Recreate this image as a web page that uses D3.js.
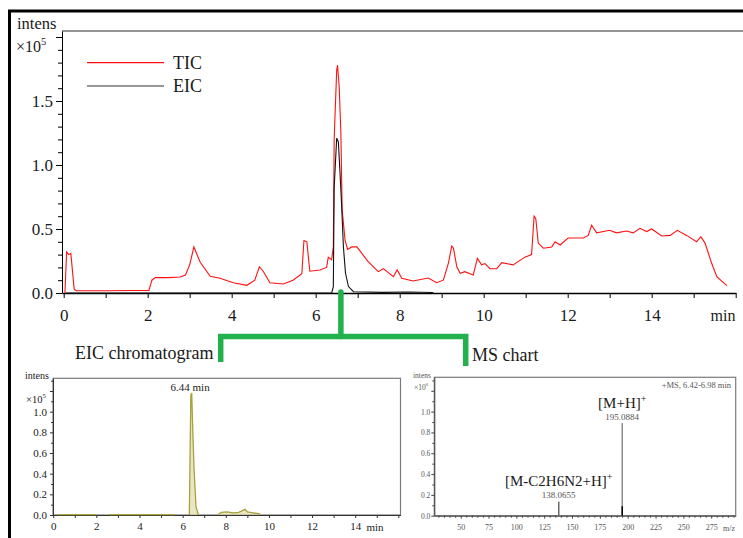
<!DOCTYPE html>
<html>
<head>
<meta charset="utf-8">
<script src="https://cdn.jsdelivr.net/npm/d3@7"></script>
<style>
  body { margin: 0; background: #fff; }
  text { font-family: "Liberation Serif", "Times New Roman", serif; fill: #1a1a1a; }
</style>
</head>
<body>
<svg id="fig" width="743" height="538"></svg>
<script>
// ---- data ----
// main chromatogram, intensity in x10^5
var ticTime = [0.03, 0.07, 0.12, 0.17, 0.25, 0.3, 1.0, 1.6, 2.03, 2.1, 2.18, 2.5, 2.77, 2.9, 3.0, 3.1, 3.25, 3.49, 3.72, 4.04, 4.36, 4.55, 4.66, 4.75, 4.91, 5.23, 5.46, 5.67, 5.72, 5.79, 5.86, 6.1, 6.26, 6.3, 6.38, 6.42, 6.44, 6.5, 6.52, 6.56, 6.6, 6.63, 6.7, 6.76, 6.86, 6.98, 7.25, 7.49, 7.61, 7.85, 7.94, 8.05, 8.32, 8.68, 8.88, 9.04, 9.16, 9.24, 9.28, 9.36, 9.44, 9.55, 9.75, 9.85, 9.95, 10.03, 10.15, 10.31, 10.43, 10.7, 10.98, 11.14, 11.2, 11.24, 11.3, 11.42, 11.62, 11.7, 11.82, 12.01, 12.37, 12.49, 12.57, 12.69, 12.85, 13.0, 13.16, 13.4, 13.56, 13.72, 13.88, 14.0, 14.24, 14.44, 14.61, 14.83, 15.07, 15.17, 15.27, 15.43, 15.55, 15.79];
var ticValue = [0.0, 0.32, 0.3, 0.31, 0.03, 0.018, 0.018, 0.02, 0.02, 0.1, 0.12, 0.12, 0.125, 0.14, 0.22, 0.36, 0.24, 0.13, 0.115, 0.08, 0.06, 0.1, 0.205, 0.17, 0.08, 0.07, 0.1, 0.15, 0.41, 0.4, 0.17, 0.18, 0.2, 0.28, 0.26, 0.36, 1.2, 1.74, 1.78, 1.61, 1.25, 0.65, 0.41, 0.34, 0.36, 0.36, 0.245, 0.167, 0.19, 0.127, 0.18, 0.115, 0.094, 0.117, 0.08, 0.1, 0.234, 0.367, 0.35, 0.205, 0.154, 0.167, 0.14, 0.27, 0.22, 0.23, 0.19, 0.19, 0.237, 0.22, 0.28, 0.3, 0.6, 0.58, 0.39, 0.35, 0.36, 0.4, 0.375, 0.43, 0.43, 0.45, 0.53, 0.47, 0.48, 0.49, 0.47, 0.484, 0.47, 0.505, 0.48, 0.5, 0.445, 0.45, 0.49, 0.45, 0.4, 0.44, 0.39, 0.23, 0.127, 0.057];

var eicTime = [0.05, 6.38, 6.42, 6.44, 6.5, 6.54, 6.58, 6.62, 6.66, 6.71, 6.78, 6.9, 7.6, 8.2, 8.8];
var eicValue = [0, 0, 0.05, 0.82, 1.21, 1.18, 0.935, 0.67, 0.36, 0.154, 0.05, 0.01, 0.005, 0.008, 0.004];

// EIC chromatogram panel (null = gap in trace)
var subTime = [0.2, 2.0, 2.3, 2.6, 5.6, 5.9, 6.31, 6.38, 6.42, 6.47, 6.53, 6.62, 6.73, 7.2, 7.66, 7.8, 8.05, 8.35, 8.6, 8.9, 9.0, 9.28, 9.6];
var subValue = [0.004, 0.004, null, 0.004, 0.004, null, 0, 1.16, 1.18, 0.82, 0.44, 0.08, 0, null, 0.01, 0.025, 0.03, 0.02, 0.025, 0.055, 0.03, 0.02, 0.01];

// MS spectrum, intensity in x10^6
var msMz = [138.0655, 195.0884];
var msIntensity = [0.135, 0.89];
var msIonLabels = ["[M-C2H6N2+H]", "[M+H]"];
var msOverlayMz = [195.0884];
var msOverlayIntensity = [0.09];

var mainXTicks = d3.range(0, 17, 1);
var mainYTicks = d3.range(0, 21).map(function (d) { return d / 10; });
var subYTicks = d3.range(0, 14).map(function (d) { return d / 10; });
var msXTicks = d3.range(30, 296, 5);
var msYTicks = d3.range(0, 14).map(function (d) { return d / 10; });

var selectedTime = 6.6;

var svg = d3.select("#fig");
var ink = "#1a1a1a";
var serif = '"Liberation Serif", "Times New Roman", serif';

function styleAxis(g, size, color, lineColor) {
  g.attr("font-family", null).attr("font-size", null);
  g.selectAll("text").style("font-family", serif).style("font-size", size + "px").style("fill", color);
  g.select(".domain").attr("stroke", lineColor);
  g.selectAll(".tick line").attr("stroke", lineColor);
}

function sciLabel(x, y, size, power) {
  var t = svg.append("text").attr("x", x).attr("y", y).style("font-size", size + "px").text("\u00d710");
  t.append("tspan").attr("dy", -size * 0.45).style("font-size", (size * 0.65) + "px").text(power);
  return t;
}

// outer border
svg.append("line").attr("x1", 8).attr("x2", 743).attr("y1", 11).attr("y2", 11).attr("stroke", "#000").attr("stroke-width", 3);
svg.append("line").attr("x1", 9.5).attr("x2", 9.5).attr("y1", 10).attr("y2", 538).attr("stroke", "#000").attr("stroke-width", 3);

plotMain();
plotSub();
plotMs();
plotConnector();

function plotMain() {
  var x = d3.scaleLinear().domain([-0.04, 16]).range([62, 735.7]);
  var y = d3.scaleLinear().domain([0, 2.047]).range([293, 31]);
  window.xMain = x;

  svg.append("line").attr("x1", 62).attr("x2", 743).attr("y1", 31).attr("y2", 31)
    .attr("stroke", "#707070").attr("stroke-width", 1.5);

  var bottom = d3.axisBottom(x).tickValues(mainXTicks).tickSize(5).tickSizeOuter(0).tickPadding(11)
    .tickFormat(function (d) { return (d % 2 === 0 && d < 16) ? d : ""; });
  var gx = svg.append("g").attr("transform", "translate(0,293)").call(bottom);
  styleAxis(gx, 17, ink, "#000");
  gx.select(".domain").attr("stroke-width", 1.3);

  var left = d3.axisLeft(y).tickValues(mainYTicks).tickSize(6).tickSizeOuter(0).tickPadding(3)
    .tickFormat(function (d) { return (Math.round(d * 10) % 5 === 0 && d < 1.6) ? d3.format(".1f")(d) : ""; });
  var gy = svg.append("g").attr("transform", "translate(62,0)").call(left);
  styleAxis(gy, 17, ink, "#000");
  gy.selectAll(".tick line").attr("x2", function (d) { return Math.round(d * 10) % 5 === 0 ? -6 : -4; });

  svg.append("text").attr("x", 723).attr("y", 321).attr("text-anchor", "middle").style("font-size", "16px").text("min");
  svg.append("text").attr("x", 17).attr("y", 29).style("font-size", "16.5px").text("intens");
  sciLabel(16, 52, 16, "5");

  var ticLine = d3.line().x(function (d, i) { return x(ticTime[i]); }).y(function (d) { return y(d); });
  svg.append("path").datum(ticValue).attr("d", ticLine).attr("fill", "none").attr("stroke", "#ff1010").attr("stroke-width", 1.1);

  var eicLine = d3.line().x(function (d, i) { return x(eicTime[i]); }).y(function (d) { return y(d); });
  svg.append("path").datum(eicValue).attr("d", eicLine).attr("fill", "none").attr("stroke", "#111").attr("stroke-width", 1.1);

  // legend
  svg.append("line").attr("x1", 87).attr("x2", 164).attr("y1", 62.7).attr("y2", 62.7).attr("stroke", "#ff1010").attr("stroke-width", 1.2);
  svg.append("text").attr("x", 173).attr("y", 69).style("font-size", "18px").text("TIC");
  svg.append("line").attr("x1", 87).attr("x2", 164).attr("y1", 86).attr("y2", 86).attr("stroke", "#333").attr("stroke-width", 1.2);
  svg.append("text").attr("x", 173).attr("y", 92).style("font-size", "18px").text("EIC");
}

function plotSub() {
  var x = d3.scaleLinear().domain([-0.01, 16.1]).range([53, 400.5]);
  var y = d3.scaleLinear().domain([0, 1.323]).range([515, 378.3]);

  svg.append("rect").attr("x", 53).attr("y", 378.3).attr("width", 347.5).attr("height", 136.7)
    .attr("fill", "none").attr("stroke", "#7a7a7a").attr("stroke-width", 1.2);

  var bottom = d3.axisBottom(x).tickValues(mainXTicks).tickSize(3).tickSizeOuter(0).tickPadding(4.5)
    .tickFormat(function (d) { return (d % 2 === 0 && d < 16) ? d : ""; });
  var gx = svg.append("g").attr("transform", "translate(0,515)").call(bottom);
  styleAxis(gx, 11, "#222", "#333");

  var left = d3.axisLeft(y).tickValues(subYTicks).tickSize(3).tickSizeOuter(0).tickPadding(3)
    .tickFormat(function (d) { return (Math.round(d * 10) % 2 === 0 && d <= 1.0) ? d3.format(".1f")(d) : ""; });
  var gy = svg.append("g").attr("transform", "translate(53,0)").call(left);
  styleAxis(gy, 11, "#222", "#333");
  gy.selectAll(".tick line").attr("x2", function (d) { return Math.round(d * 10) % 2 === 0 ? -3 : -2; });

  svg.append("text").attr("x", 375).attr("y", 530.5).attr("text-anchor", "middle").style("font-size", "11px").text("min");
  svg.append("text").attr("x", 25).attr("y", 379).style("font-size", "10px").text("intens");
  sciLabel(26, 403, 10.5, "5");

  var area = d3.area().defined(function (d) { return d !== null; })
    .x(function (d, i) { return x(subTime[i]); }).y0(y(0)).y1(function (d) { return y(d); });
  svg.append("path").datum(subValue).attr("d", area).attr("fill", "#d9d59c").attr("opacity", 0.6);
  var line = d3.line().defined(function (d) { return d !== null; })
    .x(function (d, i) { return x(subTime[i]); }).y(function (d) { return y(d); });
  svg.append("path").datum(subValue).attr("d", line).attr("fill", "none").attr("stroke", "#a8a23c").attr("stroke-width", 1.3);

  svg.append("text").attr("x", x(6.44) - 2).attr("y", 390.5).attr("text-anchor", "middle").style("font-size", "11px").text("6.44 min");
}

function plotMs() {
  var x = d3.scaleLinear().domain([26.3, 297]).range([434.3, 735.7]);
  var y = d3.scaleLinear().domain([0, 1.33]).range([515.7, 377.3]);
  var gray = "#555";

  svg.append("rect").attr("x", 434.3).attr("y", 377.3).attr("width", 301.4).attr("height", 138.4)
    .attr("fill", "none").attr("stroke", "#7a7a7a").attr("stroke-width", 1.2);

  var bottom = d3.axisBottom(x).tickValues(msXTicks).tickSize(3).tickSizeOuter(0).tickPadding(6)
    .tickFormat(function (d) { return (d % 25 === 0 && d >= 50 && d <= 275) ? d : ""; });
  var gx = svg.append("g").attr("transform", "translate(0,515.7)").call(bottom);
  styleAxis(gx, 8, gray, "#444");
  gx.selectAll(".tick line").attr("y2", function (d) { return d % 25 === 0 ? 3 : 2; });

  var left = d3.axisLeft(y).tickValues(msYTicks).tickSize(3).tickSizeOuter(0).tickPadding(1)
    .tickFormat(function (d) { return (Math.round(d * 10) % 2 === 0 && d <= 1.0) ? d3.format(".1f")(d) : ""; });
  var gy = svg.append("g").attr("transform", "translate(434.3,0)").call(left);
  styleAxis(gy, 7.5, gray, "#444");
  gy.selectAll(".tick line").attr("x2", function (d) { return Math.round(d * 10) % 2 === 0 ? -3 : -2; });

  svg.append("text").attr("x", 729).attr("y", 530.5).attr("text-anchor", "middle").style("font-size", "8px").style("fill", gray).text("m/z");
  svg.append("text").attr("x", 413).attr("y", 378).style("font-size", "7.5px").style("fill", gray).text("intens");
  sciLabel(414, 389.5, 7.5, "6").style("fill", gray);
  svg.append("text").attr("x", 731).attr("y", 388).attr("text-anchor", "end").style("font-size", "8.5px").style("fill", gray).text("+MS, 6.42-6.98 min");

  svg.selectAll(".ms-peak").data(msMz).enter().append("line")
    .attr("x1", function (d) { return x(d); }).attr("x2", function (d) { return x(d); })
    .attr("y1", y(0)).attr("y2", function (d, i) { return y(msIntensity[i]); })
    .attr("stroke", function (d, i) { return i === 1 ? "#8c8c8c" : "#666"; }).attr("stroke-width", 1.5);
  svg.selectAll(".ms-over").data(msOverlayMz).enter().append("line")
    .attr("x1", function (d) { return x(d); }).attr("x2", function (d) { return x(d); })
    .attr("y1", y(0)).attr("y2", function (d, i) { return y(msOverlayIntensity[i]); })
    .attr("stroke", "#000").attr("stroke-width", 1.5);

  msMz.forEach(function (mz, i) {
    var top = y(msIntensity[i]);
    svg.append("text").attr("x", x(mz)).attr("y", top - 3.5).attr("text-anchor", "middle")
      .style("font-size", "9px").style("fill", gray).text(mz.toFixed(4));
    var t = svg.append("text").attr("x", x(mz)).attr("y", top - 15.5).attr("text-anchor", "middle")
      .style("font-size", "15px").text(msIonLabels[i]);
    t.append("tspan").attr("dy", -6).style("font-size", "10px").text("+");
  });
}

function plotConnector() {
  var green = "#22b14c";
  var cx = xMain(selectedTime);
  svg.append("path").attr("d", "M" + cx + ",292 V336.5")
    .attr("fill", "none").attr("stroke", green).attr("stroke-width", 5.5).attr("stroke-linecap", "round");
  svg.append("path").attr("d", "M220.7,362 V336.5 H465.7 V366")
    .attr("fill", "none").attr("stroke", green).attr("stroke-width", 5.5);

  svg.append("text").attr("x", 75).attr("y", 358.5).style("font-size", "18px").text("EIC chromatogram");
  svg.append("text").attr("x", 472).attr("y", 361).style("font-size", "18px").text("MS chart");
}
</script>
</body>
</html>
